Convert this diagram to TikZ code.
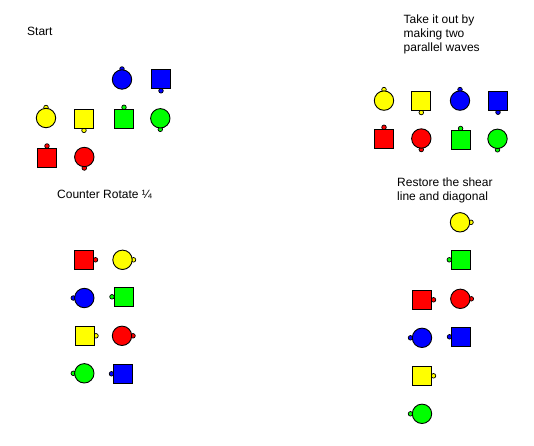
\documentclass[tikz,border=0pt]{standalone}
\usepackage{fontspec}
\setmainfont{Liberation Sans}
\usetikzlibrary{calc}
\pgfdeclarelayer{bg}
\pgfdeclarelayer{paper}
\pgfsetlayers{paper,bg,main}
\definecolor{cR}{RGB}{255,0,0}
\definecolor{cY}{RGB}{255,255,0}
\definecolor{cG}{RGB}{0,255,0}
\definecolor{cB}{RGB}{0,0,255}
\tikzset{
  ball/.style={circle, draw=black, line width=0.9pt, inner sep=0pt, minimum size=19.4pt},
  box/.style={rectangle, draw=black, line width=0.9pt, inner sep=0pt, minimum size=19pt},
  nub/.style={circle, draw=black, line width=0.7pt, inner sep=0pt, minimum size=4.6pt},
  lbl/.style={anchor=base west, inner sep=0pt, font=\fontsize{12}{14}\selectfont, align=left}
}
% name, shape style, colour, x, y, nub offset
\newcommand\piece[7]{%
  \node[#2, fill=#3] (#1) at (#4,#5) {};
  \begin{pgfonlayer}{bg}\node[nub, fill=#3] (#1n) at ($(#1.center)+(#6,#7)$) {};\end{pgfonlayer}%
}
\begin{document}
\begin{tikzpicture}[x=1pt,y=-1pt]
\begin{pgfonlayer}{paper}
\fill[white] (0,0) rectangle (534,445);
\end{pgfonlayer}
\useasboundingbox (0,0) rectangle (534,445);
% labels
\node[lbl] (tStart) at (27,35.5) {Start};
\node[lbl] (tTake) at (403.5,51.5) {Take it out by\\making two\\parallel waves};
\node[lbl] (tCounter) at (57,198.7) {Counter Rotate ¼};
\node[lbl] (tRestore) at (397,200) {Restore the shear\\line and diagonal};
% Start
\piece{s1}{ball}{cB}{122}{79.5}{0}{-10.5}
\piece{s2}{box}{cB}{161}{79.3}{0}{11.5}
\piece{s3}{ball}{cY}{46}{118}{0}{-10.5}
\piece{s4}{box}{cY}{84}{118.8}{0}{11.5}
\piece{s5}{box}{cG}{124}{118.8}{0}{-11.5}
\piece{s6}{ball}{cG}{160.3}{118.3}{0}{11}
\piece{s7}{box}{cR}{47}{157.5}{0}{-11.5}
\piece{s8}{ball}{cR}{84.3}{157}{0}{11}
% Take it out
\piece{w1}{ball}{cY}{384}{100.6}{0}{-11}
\piece{w2}{box}{cY}{421.3}{101}{0}{11.5}
\piece{w3}{ball}{cB}{460}{100.6}{0}{-11}
\piece{w4}{box}{cB}{498}{100.7}{0}{11.5}
\piece{w5}{box}{cR}{384}{138.8}{0}{-11.5}
\piece{w6}{ball}{cR}{421.3}{138.5}{0}{11}
\piece{w7}{box}{cG}{460.6}{140}{0}{-11.5}
\piece{w8}{ball}{cG}{497.5}{138.8}{0}{11}
% Counter rotate
\piece{c1}{box}{cR}{84}{259.8}{11.5}{0}
\piece{c2}{ball}{cY}{122.5}{259.8}{11}{0}
\piece{c3}{ball}{cB}{84.3}{298}{-11}{0}
\piece{c4}{box}{cG}{124}{296.8}{-12}{0}
\piece{c5}{box}{cY}{84.5}{335.8}{11.5}{0}
\piece{c6}{ball}{cR}{122}{335.8}{11}{0}
\piece{c7}{ball}{cG}{84.3}{373.3}{-11}{0}
\piece{c8}{box}{cB}{123}{373.8}{-11.5}{0}
% Restore
\piece{r1}{ball}{cY}{460}{222.3}{11}{0}
\piece{r2}{box}{cG}{460.8}{259.8}{-11.5}{0}
\piece{r3}{box}{cR}{422}{299.8}{11.5}{0}
\piece{r4}{ball}{cR}{460.3}{298.8}{11}{0}
\piece{r5}{ball}{cB}{422}{337.8}{-11.5}{0}
\piece{r6}{box}{cB}{461}{336.8}{-11.5}{0}
\piece{r7}{box}{cY}{422}{375.8}{11.5}{0}
\piece{r8}{ball}{cG}{422}{413.8}{-11.5}{0}
\end{tikzpicture}
\end{document}
